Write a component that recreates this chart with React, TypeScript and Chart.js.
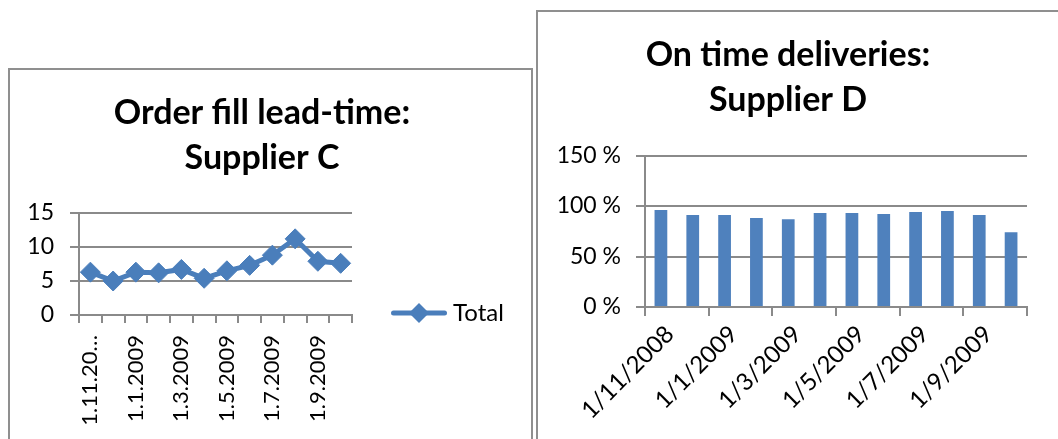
import { useEffect, useRef } from 'react';
import { Chart, registerables } from 'chart.js';

Chart.register(...registerables);

// Order fill lead-time, supplier C (days)
const leadTimeMonths = [
  '1.11.2008', '1.12.2008', '1.1.2009', '1.2.2009', '1.3.2009', '1.4.2009',
  '1.5.2009', '1.6.2009', '1.7.2009', '1.8.2009', '1.9.2009', '1.10.2009',
];
const leadTimeTotal = [6.3, 5.0, 6.3, 6.2, 6.7, 5.4, 6.5, 7.3, 8.8, 11.2, 7.9, 7.6];
const leadTimeAxis = { min: 0, max: 15, step: 5 };

// On time deliveries, supplier D (%)
const deliveryMonths = [
  '1/11/2008', '1/12/2008', '1/1/2009', '1/2/2009', '1/3/2009', '1/4/2009',
  '1/5/2009', '1/6/2009', '1/7/2009', '1/8/2009', '1/9/2009', '1/10/2009',
];
const onTimePercent = [96, 91, 91, 88, 87, 93, 93, 92, 94, 95, 91, 74];
const onTimeAxis = { min: 0, max: 150, step: 50 };

const FONT = 'Lato, "Open Sans", sans-serif';
const GRID = '#8a8a8a';
const LINE_BLUE = '#4a7ebb';
const BAR_BLUE = '#4f81bd';
const FRAME = '#8f8f8f';
const TITLE_SIZE = 34;
const TICK_SIZE = 23;
const CATEGORY_SIZE = 24;
const VERTICAL_CATEGORY_SIZE = 22;

Chart.defaults.font.family = FONT;
Chart.defaults.color = '#000';

// Draws a line-with-marker legend entry just right of the plot area.
const lineLegend = {
  id: 'lineLegend',
  afterDraw(chart: any, _args: any, opts: any) {
    const { ctx, chartArea } = chart;
    const ds = chart.data.datasets[0];
    const x0 = chartArea.right + opts.offsetX;
    const y = chartArea.bottom + opts.offsetY;
    const cx = x0 + opts.sampleWidth / 2;
    const r = ds.pointRadius;
    ctx.save();
    ctx.strokeStyle = ds.borderColor;
    ctx.lineWidth = ds.borderWidth;
    ctx.lineCap = 'round';
    ctx.beginPath();
    ctx.moveTo(x0 + ds.borderWidth / 2, y);
    ctx.lineTo(x0 + opts.sampleWidth - ds.borderWidth / 2, y);
    ctx.stroke();
    ctx.fillStyle = ds.pointBackgroundColor;
    ctx.beginPath();
    ctx.moveTo(cx, y - r);
    ctx.lineTo(cx + r, y);
    ctx.lineTo(cx, y + r);
    ctx.lineTo(cx - r, y);
    ctx.closePath();
    ctx.fill();
    ctx.fillStyle = '#000';
    ctx.font = `${opts.fontSize}px ${FONT}`;
    ctx.textBaseline = 'middle';
    ctx.textAlign = 'left';
    ctx.fillText(ds.label, x0 + opts.sampleWidth + opts.gap, y);
    ctx.restore();
  },
};

function leadTimeConfig(): any {
  return {
    type: 'line',
    data: {
      labels: leadTimeMonths,
      datasets: [
        {
          label: 'Total',
          data: leadTimeTotal,
          borderColor: LINE_BLUE,
          backgroundColor: LINE_BLUE,
          borderWidth: 5,
          tension: 0,
          pointStyle: 'rectRot',
          pointRadius: 10,
          pointBorderWidth: 1,
          pointBorderColor: LINE_BLUE,
          pointBackgroundColor: LINE_BLUE,
        },
      ],
    },
    plugins: [lineLegend],
    options: {
      responsive: false,
      animation: false,
      layout: { padding: { left: 0, right: 17, top: 0, bottom: 0 } },
      plugins: {
        title: {
          display: true,
          text: ['Order fill lead-time:', 'Supplier C'],
          color: '#000',
          font: { size: TITLE_SIZE, weight: 'bold', lineHeight: 45 / TITLE_SIZE },
          padding: { top: 20.5, bottom: 32.5 },
        },
        legend: { display: false },
        tooltip: { enabled: false },
        lineLegend: { offsetX: 39, offsetY: -2, sampleWidth: 56, gap: 6, fontSize: CATEGORY_SIZE },
      },
      scales: {
        x: {
          offset: true,
          grid: {
            offset: true,
            drawOnChartArea: false,
            drawTicks: true,
            tickLength: 8,
            color: GRID,
            lineWidth: 2,
          },
          border: { color: GRID, width: 2 },
          ticks: {
            autoSkip: false,
            minRotation: 90,
            maxRotation: 90,
            padding: 12,
            color: '#000',
            font: { size: VERTICAL_CATEGORY_SIZE },
            callback(this: any, value: any, index: number) {
              if (index % 2) return '';
              const s = this.getLabelForValue(value);
              return s.length > 8 ? s.slice(0, 7) + '…' : s;
            },
          },
          afterFit(scale: any) {
            scale.height = 124;
          },
        },
        y: {
          min: leadTimeAxis.min,
          max: leadTimeAxis.max,
          ticks: { stepSize: leadTimeAxis.step, padding: 16, color: '#000', font: { size: TICK_SIZE } },
          grid: { color: GRID, lineWidth: 2, tickLength: 9 },
          border: { color: GRID, width: 2 },
          afterFit(scale: any) {
            scale.width = 69;
          },
        },
        legendSpace: {
          type: 'linear',
          position: 'right',
          display: true,
          grid: { display: false },
          border: { display: false },
          ticks: { display: false },
          afterFit(scale: any) {
            scale.width = 162;
          },
        },
      },
    },
  };
}

function onTimeConfig(): any {
  return {
    type: 'bar',
    data: {
      labels: deliveryMonths,
      datasets: [
        {
          label: 'On time',
          data: onTimePercent,
          backgroundColor: BAR_BLUE,
          borderWidth: 0,
          categoryPercentage: 1,
          barPercentage: 0.4,
        },
      ],
    },
    options: {
      responsive: false,
      animation: false,
      layout: { padding: { left: 11, right: 31, top: 0, bottom: 0 } },
      plugins: {
        title: {
          display: true,
          text: ['On time deliveries:', 'Supplier D'],
          color: '#000',
          font: { size: TITLE_SIZE, weight: 'bold', lineHeight: 45 / TITLE_SIZE },
          padding: { top: 20.5, bottom: 33 },
        },
        legend: { display: false },
        tooltip: { enabled: false },
      },
      scales: {
        x: {
          grid: {
            offset: true,
            drawOnChartArea: false,
            drawTicks: true,
            tickLength: 9,
            lineWidth: 2,
            color: GRID,
            tickColor: (ctx: any) =>
              ctx.index === undefined || ctx.index % 2 === 0 ? GRID : 'rgba(0,0,0,0)',
          },
          border: { color: GRID, width: 2 },
          ticks: {
            autoSkip: false,
            minRotation: 45,
            maxRotation: 45,
            padding: 4,
            labelOffset: 9,
            color: '#000',
            font: { size: CATEGORY_SIZE },
            callback(this: any, value: any, index: number) {
              return index % 2 ? '' : this.getLabelForValue(value);
            },
          },
          afterFit(scale: any) {
            scale.height = 132;
          },
        },
        y: {
          min: onTimeAxis.min,
          max: onTimeAxis.max,
          ticks: {
            stepSize: onTimeAxis.step,
            padding: 15,
            color: '#000',
            font: { size: TICK_SIZE },
            callback: (v: any) => `${v} %`,
          },
          grid: { color: GRID, lineWidth: 2, tickLength: 9 },
          border: { color: GRID, width: 2 },
          afterFit(scale: any) {
            scale.width = 96;
          },
        },
      },
    },
  };
}

function ChartCanvas(props: { make: () => any; left: number; top: number; width: number; height: number }) {
  const ref = useRef<HTMLCanvasElement>(null);
  useEffect(() => {
    const chart = new Chart(ref.current as HTMLCanvasElement, props.make());
    return () => chart.destroy();
  }, []);
  return (
    <canvas
      ref={ref}
      width={props.width}
      height={props.height}
      style={{
        position: 'absolute',
        left: props.left,
        top: props.top,
        width: props.width,
        height: props.height,
      }}
    />
  );
}

export default function App() {
  return (
    <div
      style={{
        position: 'fixed',
        left: 0,
        top: 0,
        width: 1058,
        height: 439,
        overflow: 'hidden',
        background: '#fff',
      }}
    >
      <div
        style={{
          position: 'absolute',
          left: 8,
          top: 68,
          width: 525,
          height: 420,
          border: `2px solid ${FRAME}`,
          boxSizing: 'border-box',
        }}
      />
      <div
        style={{
          position: 'absolute',
          left: 536,
          top: 10,
          width: 600,
          height: 480,
          border: `2px solid ${FRAME}`,
          boxSizing: 'border-box',
        }}
      />
      <ChartCanvas make={leadTimeConfig} left={10} top={70} width={521} height={369} />
      <ChartCanvas make={onTimeConfig} left={538} top={12} width={520} height={427} />
    </div>
  );
}
